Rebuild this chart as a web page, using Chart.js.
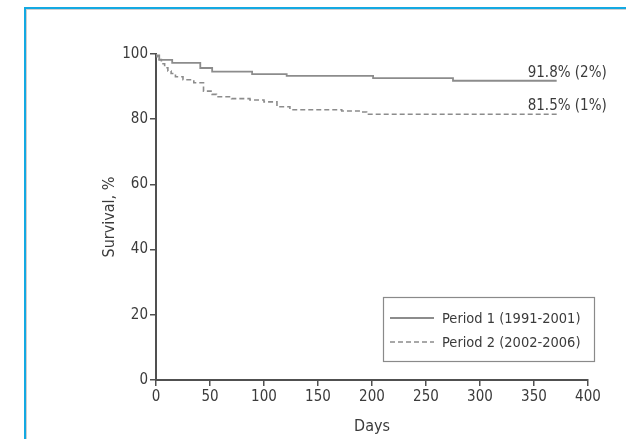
<!DOCTYPE html>
<html>
<head>
<meta charset="utf-8">
<script src="https://cdn.jsdelivr.net/npm/chart.js@4/dist/chart.umd.min.js"></script>
<style>
  html, body { margin: 0; padding: 0; background: #fff; }
  #wrap { position: relative; width: 626px; height: 439px; overflow: hidden; }
  #frame { position: absolute; left: 24px; top: 7px; width: 700px; height: 500px;
           border-top: 2px solid #13a9e2; border-left: 2px solid #13a9e2;
           box-shadow: inset 1px 1px 0 #cfcfcf; pointer-events: none; }
  canvas { position: absolute; left: 0; top: 0; }
</style>
</head>
<body>
<div id="wrap">
<canvas id="c" width="626" height="439"></canvas>
<div id="frame"></div>
</div>
<script>
// ---- data ----
const seriesNames = ['Period 1 (1991-2001)', 'Period 2 (2002-2006)'];
const endLabels = ['91.8% (2%)', '81.5% (1%)'];

const period1Days     = [0,   3,    15,   41,   52,   89,   121,  201,  275,  305,  371];
const period1Survival = [100, 99.6, 98.2, 97.3, 95.7, 94.6, 93.8, 93.3, 92.6, 91.8, 91.8];

const period2Days     = [0,   2,    5,    8,  11,   14,   18,   25,   35,   44,   52,   56,   70,   87,   100,  112,  124,  172,  189,  195,  274,  371];
const period2Survival = [100, 99.2, 98.3, 97, 95.8, 94.8, 94.0, 93.0, 92.1, 91.2, 88.6, 87.6, 86.9, 86.3, 85.9, 85.3, 83.8, 82.9, 82.5, 82.2, 81.5, 81.5];

const xTickValues = [0, 50, 100, 150, 200, 250, 300, 350, 400];
const yTickValues = [0, 20, 40, 60, 80, 100];

const FONT = "'DejaVu Sans Condensed', 'Liberation Sans', sans-serif";
const TXT = '#3b3b3b';
const AXIS = '#505050';

function toPoints(xs, ys) { return xs.map((x, i) => ({ x: x, y: ys[i] })); }

const legendPlugin = {
  id: 'boxLegend',
  afterDraw(chart) {
    const ctx = chart.ctx, ca = chart.chartArea;
    const x0 = ca.left + 227, x1 = ca.right + 6, y0 = ca.bottom - 83, y1 = ca.bottom - 19;
    ctx.save();
    ctx.strokeStyle = '#8a8a8a';
    ctx.lineWidth = 1.2;
    ctx.strokeRect(x0 + 0.5, y0 + 0.5, x1 - x0, y1 - y0);
    ctx.font = '14.5px ' + FONT;
    ctx.fillStyle = TXT;
    ctx.textBaseline = 'middle';
    chart.data.datasets.forEach((ds, i) => {
      const yy = y0 + 21 + i * 24;
      ctx.beginPath();
      ctx.strokeStyle = ds.borderColor;
      ctx.lineWidth = ds.borderWidth;
      ctx.setLineDash(ds.borderDash || []);
      ctx.moveTo(x0 + 7, yy);
      ctx.lineTo(x0 + 51, yy);
      ctx.stroke();
      ctx.setLineDash([]);
      ctx.fillText(ds.label, x0 + 59, yy + 1);
    });
    ctx.restore();
  }
};

const endLabelPlugin = {
  id: 'endLabels',
  afterDatasetsDraw(chart) {
    const ctx = chart.ctx;
    const xs = chart.scales.x, ys = chart.scales.y;
    ctx.save();
    ctx.font = '15px ' + FONT;
    ctx.fillStyle = TXT;
    ctx.textAlign = 'left';
    ctx.textBaseline = 'alphabetic';
    chart.data.datasets.forEach((ds, i) => {
      const last = ds.data[ds.data.length - 1];
      const px = xs.getPixelForValue(last.x);
      const py = ys.getPixelForValue(last.y);
      ctx.fillText(endLabels[i], px - 29, py - 4);
    });
    ctx.restore();
  }
};

new Chart(document.getElementById('c'), {
  type: 'line',
  data: {
    datasets: [
      { label: seriesNames[0], data: toPoints(period1Days, period1Survival),
        borderColor: '#8c8c8c', borderWidth: 1.8, stepped: 'after', pointRadius: 0, fill: false },
      { label: seriesNames[1], data: toPoints(period2Days, period2Survival),
        borderColor: '#8c8c8c', borderWidth: 1.6, borderDash: [5, 3], stepped: 'after', pointRadius: 0, fill: false }
    ]
  },
  options: {
    responsive: false,
    animation: false,
    layout: { padding: { left: 90, top: 54, right: 38, bottom: 0 } },
    plugins: { legend: { display: false }, tooltip: { enabled: false } },
    scales: {
      x: {
        type: 'linear', min: 0, max: 400,
        afterBuildTicks(s) { s.ticks = xTickValues.map(v => ({ value: v })); },
        afterFit(s) { s.height = 59; },
        grid: { display: true, drawOnChartArea: false, drawTicks: true, tickLength: 6, color: AXIS, lineWidth: 1.5 },
        border: { display: true, color: AXIS, width: 2 },
        ticks: { color: TXT, font: { family: FONT, size: 15 }, padding: 2, maxRotation: 0 },
        title: { display: true, text: 'Days', color: TXT, font: { family: FONT, size: 16 }, padding: { top: 0, bottom: 3 } }
      },
      y: {
        type: 'linear', min: 0, max: 100,
        afterBuildTicks(s) { s.ticks = yTickValues.map(v => ({ value: v })); },
        afterFit(s) { s.width = 66; },
        grid: { display: true, drawOnChartArea: false, drawTicks: true, tickLength: 6, color: AXIS, lineWidth: 1.5 },
        border: { display: true, color: AXIS, width: 2 },
        ticks: { color: TXT, font: { family: FONT, size: 15 }, padding: 2 },
        title: { display: true, text: 'Survival, %', color: TXT, font: { family: FONT, size: 16 }, padding: { top: 10, bottom: 0 } }
      }
    }
  },
  plugins: [legendPlugin, endLabelPlugin]
});
</script>
</body>
</html>
